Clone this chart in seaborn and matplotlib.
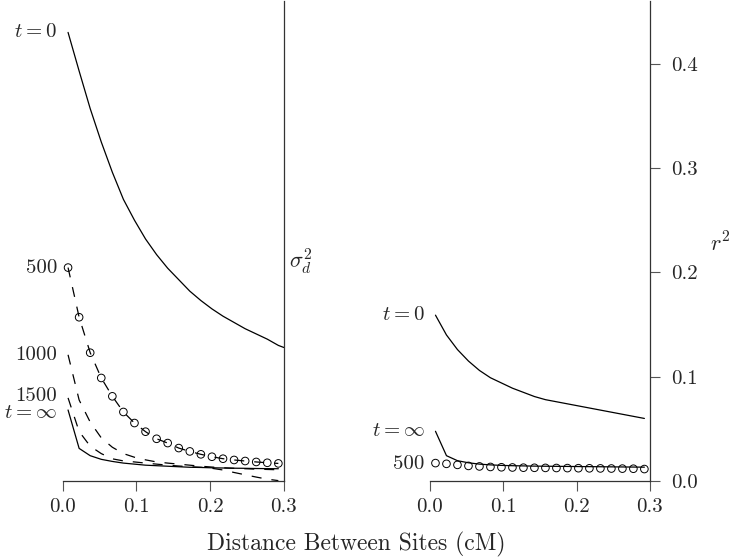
import numpy as np
import pandas as pd
import matplotlib
matplotlib.use("Agg")
import matplotlib.pyplot as plt
import seaborn as sns

# distances (cM) at which the curves were evaluated
dist = [0.0075, 0.0225, 0.0375, 0.0525, 0.0675, 0.0825, 0.0975, 0.1125, 0.1275, 0.1425,
        0.1575, 0.1725, 0.1875, 0.2025, 0.2175, 0.2325, 0.2475, 0.2625, 0.2775, 0.2925]
dist_t0 = dist + [0.3]

# left panel: sigma_d^2
sig_t0 = [0.430, 0.393, 0.357, 0.325, 0.296, 0.270, 0.250, 0.232, 0.217, 0.204,
          0.193, 0.182, 0.173, 0.165, 0.158, 0.152, 0.146, 0.141, 0.136, 0.130, 0.128]
sig_500 = [0.2046, 0.157, 0.123, 0.0988, 0.0812, 0.0662, 0.0556, 0.0473, 0.0405, 0.0364,
           0.0316, 0.0284, 0.0256, 0.0233, 0.0214, 0.0202, 0.0192, 0.0183, 0.0175, 0.0169]
sig_1000 = [0.121, 0.0777, 0.0565, 0.0414, 0.0324, 0.0263, 0.0228, 0.0203, 0.0183, 0.0172,
            0.0162, 0.0152, 0.0142, 0.0134, 0.0127, 0.0122, 0.0118, 0.0114, 0.0111, 0.0108]
sig_1500 = [0.0797, 0.0475, 0.0334, 0.0263, 0.0213, 0.0193, 0.0183, 0.0172, 0.0162, 0.0152,
            0.0144, 0.0137, 0.0132, 0.0122, 0.0106, 0.0082, 0.0060, 0.0038, 0.0018, 0.0004]
sig_inf = [0.0681, 0.0313, 0.0243, 0.0208, 0.0188, 0.0172, 0.0162, 0.0152, 0.0147, 0.0142,
           0.0137, 0.0132, 0.0130, 0.0127, 0.0125, 0.0123, 0.0122, 0.0120, 0.0119, 0.0118]

# right panel: r^2
r2_t0 = [0.159, 0.140, 0.126, 0.115, 0.106, 0.099, 0.094, 0.089, 0.085, 0.081,
         0.078, 0.076, 0.074, 0.072, 0.070, 0.068, 0.066, 0.064, 0.062, 0.060]
r2_inf = [0.0477, 0.0243, 0.0195, 0.0175, 0.0162, 0.0155, 0.015, 0.0147, 0.0145, 0.0143,
          0.0142, 0.0141, 0.014, 0.0139, 0.0138, 0.0137, 0.0136, 0.0135, 0.0134, 0.0133]
r2_500 = [0.0172, 0.0165, 0.0155, 0.0145, 0.014, 0.0135, 0.0132, 0.013, 0.0128, 0.0127,
          0.0126, 0.0125, 0.0124, 0.0123, 0.0122, 0.0121, 0.012, 0.0119, 0.0118, 0.0115]

xticks = [0.0, 0.1, 0.2, 0.3]
r2_ticks = [0.0, 0.1, 0.2, 0.3, 0.4]

sns.set_style("ticks")
plt.rcParams["font.family"] = ["cmr10", "DejaVu Serif"]
plt.rcParams["mathtext.fontset"] = "cm"
plt.rcParams["axes.formatter.use_mathtext"] = True

fig = plt.figure(figsize=(7.33, 5.6), dpi=100)
axL = fig.add_axes([0.0853, 0.141, 0.302, 0.857])
axR = fig.add_axes([0.5866, 0.141, 0.300, 0.857])

lw = 0.9
dash = (0, (8, 8))
circ = dict(marker="o", s=30, facecolor="none", edgecolor="black", linewidth=0.7)


def line(ax, x, y, ls="-"):
    sns.lineplot(x=x, y=y, ax=ax, color="black", lw=lw, linestyle=ls,
                 sort=False, estimator=None, clip_on=False)


def tag(ax, text, x, y, dy=0):
    ax.annotate(text, (x, y), xytext=(-8, dy), textcoords="offset points",
                ha="right", va="center", fontsize=15, annotation_clip=False)


# left panel
line(axL, dist_t0, sig_t0)
line(axL, dist, sig_500, dash)
line(axL, dist, sig_1000, dash)
line(axL, dist, sig_1500, dash)
line(axL, dist, sig_inf)
sns.scatterplot(x=dist, y=sig_500, ax=axL, clip_on=False, **circ)

tag(axL, "$t = 0$", dist_t0[0], sig_t0[0])
tag(axL, "500", dist[0], sig_500[0])
tag(axL, "1000", dist[0], sig_1000[0])
tag(axL, "1500", dist[0], sig_1500[0], dy=1)
tag(axL, r"$t = \infty$", dist[0], sig_inf[0], dy=-2)

axL.set_xlim(0, 0.3)
axL.set_ylim(0, 0.46)
axL.set_xticks(xticks)
axL.set_xticklabels(["0.0", "0.1", "0.2", "0.3"])
axL.set_yticks([])
axL.yaxis.set_label_position("right")
axL.set_ylabel(r"$\sigma_d^2$", rotation=0, fontsize=16)
axL.yaxis.set_label_coords(1.075, 0.49)
for s in ["left", "top"]:
    axL.spines[s].set_visible(False)

# right panel
line(axR, dist, r2_t0)
line(axR, dist, r2_inf)
sns.scatterplot(x=dist, y=r2_500, ax=axR, clip_on=False, **circ)

tag(axR, "$t = 0$", dist[0], r2_t0[0])
tag(axR, r"$t = \infty$", dist[0], r2_inf[0])
tag(axR, "500", dist[0], r2_500[0], dy=-1)

axR.set_xlim(0, 0.3)
axR.set_ylim(0, 0.46)
axR.set_xticks(xticks)
axR.set_xticklabels(["0.0", "0.1", "0.2", "0.3"])
axR.yaxis.tick_right()
axR.set_yticks(r2_ticks)
axR.set_yticklabels(["0.0", "0.1", "0.2", "0.3", "0.4"])
axR.yaxis.set_label_position("right")
axR.set_ylabel("$r^2$", rotation=0, fontsize=16)
axR.yaxis.set_label_coords(1.32, 0.52)
for s in ["left", "top"]:
    axR.spines[s].set_visible(False)

for ax in (axL, axR):
    ax.tick_params(axis="x", direction="out", length=7, width=0.8,
                   color="#555555", labelsize=15, pad=5)
    ax.tick_params(axis="y", direction="out", length=7, width=0.8,
                   color="#555555", labelsize=15, pad=8)
    for s in ["bottom", "right"]:
        ax.spines[s].set_linewidth(0.9)
        ax.spines[s].set_color("#333333")
    ax.set_xlabel("")

fig.text(0.486, 0.027, "Distance Between Sites (cM)", ha="center", va="center",
         fontsize=17)

fig.savefig("out.png", dpi=100)
